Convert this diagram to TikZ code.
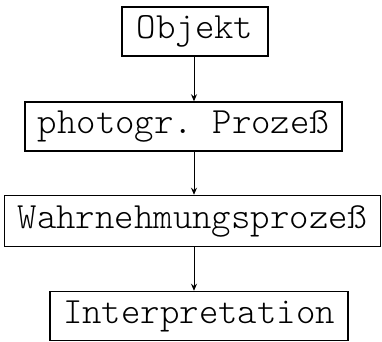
\documentclass[tikz,border=0pt]{standalone}
\usepackage{fontspec}
\setmonofont{Latin Modern Mono Light}
\usetikzlibrary{arrows.meta}
\begin{document}
\begin{tikzpicture}[x=1pt,y=-1pt,
  box/.style={draw, line width=1.5pt, inner sep=0pt, font=\fontsize{37}{40}\selectfont\ttfamily, minimum height=49pt},
  conn/.style={line width=1pt, -{Stealth[length=7pt,width=6pt]}}]
\useasboundingbox (0,0) rectangle (382,341);
\node[box, minimum width=146pt] (a) at (195,31.5) {Objekt};
\node[box, minimum width=317pt] (b) at (183.5,126.5) {photogr. Prozeß};
\node[box, minimum width=376pt, minimum height=51pt] (c) at (192.5,221) {Wahrnehmungsprozeß};
\node[box, minimum width=298pt] (d) at (199,316) {Interpretation};
\coordinate (x) at (194,0);
\draw[conn] (a.south -| x) -- (b.north -| x);
\draw[conn] (b.south -| x) -- (c.north -| x);
\draw[conn] (c.south -| x) -- (d.north -| x);
\end{tikzpicture}
\end{document}
